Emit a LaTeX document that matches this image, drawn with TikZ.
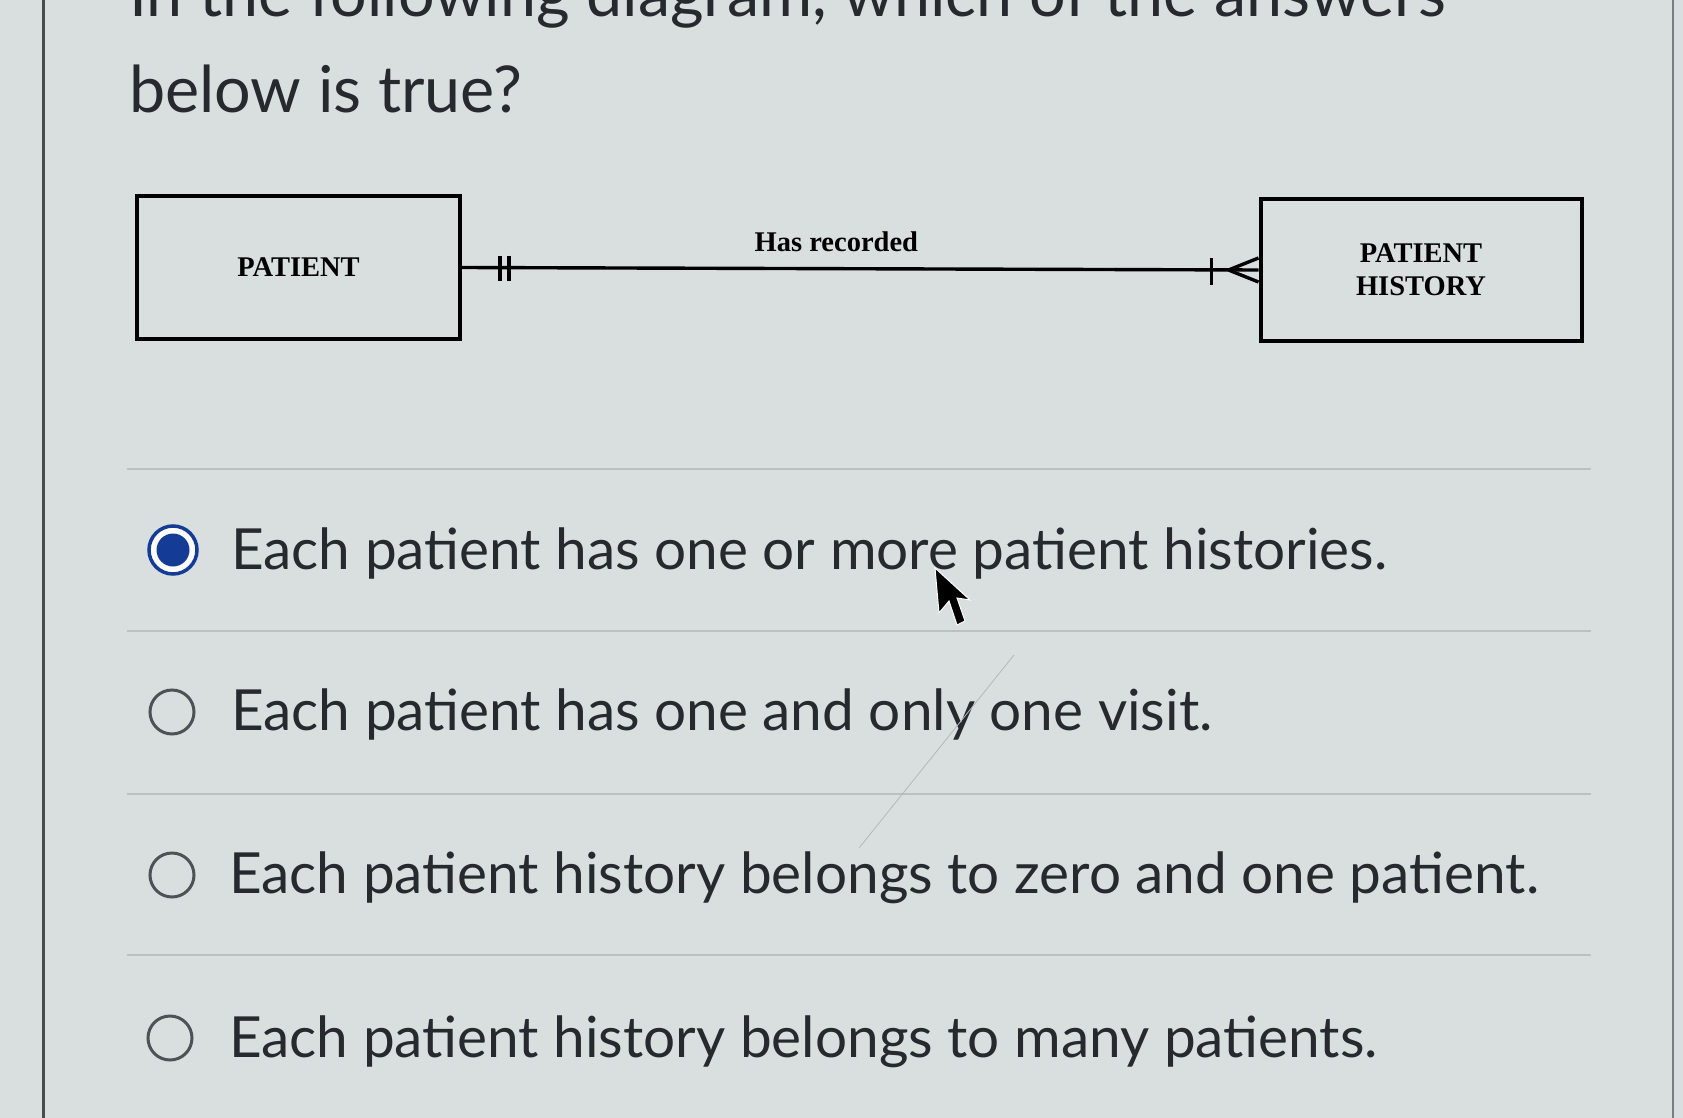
\documentclass[tikz,border=0pt]{standalone}
\usepackage{fontspec}
\setmainfont{Lato}
\newfontfamily\erfont{Liberation Serif}
\usetikzlibrary{calc}
\definecolor{bgc}{RGB}{216,223,222}
\definecolor{txt}{RGB}{38,42,46}
\definecolor{sepc}{RGB}{188,192,190}
\definecolor{radioblue}{RGB}{20,60,150}
\definecolor{radiogray}{RGB}{78,82,86}
\tikzset{
  erfontstyle/.style={font=\erfont\bfseries\fontsize{28.5}{31}\selectfont},
  entity/.style={draw=black, line width=4pt, fill=none, erfontstyle, align=center, inner sep=0pt},
  rel/.style={line width=3.4pt, black},
  qtext/.style={anchor=base west, text=txt, font=\fontsize{64.6}{76}\selectfont, inner sep=0pt},
  opttext/.style={anchor=base west, text=txt, font=\fontsize{56.7}{68}\selectfont, inner sep=0pt},
  sep/.style={draw=sepc, line width=2pt},
  radio/.style={circle, draw=radiogray, line width=3pt, minimum size=44pt, inner sep=0pt},
}
\begin{document}
\begin{tikzpicture}[x=1pt,y=-1pt]
\useasboundingbox[fill=bgc] (0,0) rectangle (1683,1118);
% frame lines
\draw[line width=3pt, color={rgb,255:red,70;green,76;blue,80}] (43,0) -- (43,1118);
\draw[line width=2.5pt, color={rgb,255:red,120;green,126;blue,128}] (1673,0) -- (1673,1118);
% question
\node[qtext] (q1) at (129,17) {In the following diagram, which of the answers};
\node[qtext] (q2) at (129,113) {below is true?};
% ER diagram
\node[entity, minimum width=323pt, minimum height=143pt] (pat) at (298.5,267.5) {PATIENT};
\node[entity, minimum width=321pt, minimum height=141pt] (hist) at (1421,270) {PATIENT\\[2pt]HISTORY};
\draw[rel] (pat.east) -- (hist.west) coordinate[pos=0.47] (mid);
\node[erfontstyle, inner sep=0pt, anchor=base] (lab) at ($(mid)+(0,-17)$) {Has recorded};
\coordinate (b1) at ($(pat.east)+(38,0)$);
\coordinate (b2) at ($(pat.east)+(47,0)$);
\draw[rel] ($(b1)+(0,-12)$) -- ($(b1)+(0,13)$);
\draw[rel] ($(b2)+(0,-12)$) -- ($(b2)+(0,13)$);
\coordinate (c1) at ($(hist.west)+(-47,0)$);
\coordinate (cf) at ($(hist.west)+(-30,0)$);
\draw[rel] ($(c1)+(0,-12)$) -- ($(c1)+(0,15)$);
\draw[rel] (cf) -- ($(hist.west)+(0,-12)$);
\draw[rel] (cf) -- ($(hist.west)+(0,12)$);
% separators
\draw[sep] (127,469) coordinate (s1a) -- (1591,469) coordinate (s1b);
\draw[sep] (127,631) coordinate (s2a) -- (1591,631) coordinate (s2b);
\draw[sep] (127,794) coordinate (s3a) -- (1591,794) coordinate (s3b);
\draw[sep] (127,955) coordinate (s4a) -- (1591,955) coordinate (s4b);
% options
\node[circle, draw=radioblue, line width=3.5pt, fill=white, minimum size=48pt, inner sep=0pt] (r1) at (173,550) {};
\fill[radioblue] (r1.center) circle (16.5pt);
\node[opttext] (o1) at (231,569) {Each patient has one or more patient histories.};
\node[radio] (r2) at (172,712) {};
\node[opttext] (o2) at (231,730) {Each patient has one and only one visit.};
\node[radio] (r3) at (172,875) {};
\node[opttext] (o3) at (229,893) {Each patient history belongs to zero and one patient.};
\node[radio] (r4) at (170,1038) {};
\node[opttext] (o4) at (229,1057) {Each patient history belongs to many patients.};
% faint scratch
\draw[line width=0.8pt, color={rgb,255:red,180;green,184;blue,186}] (1014,655) -- (859,848);
% mouse cursor
\fill[black, draw=white, line width=1pt] (935,568) -- (939,613) -- (949,601) -- (957,625) -- (965,621) -- (957,598) -- (970,600) -- cycle;
\end{tikzpicture}
\end{document}
